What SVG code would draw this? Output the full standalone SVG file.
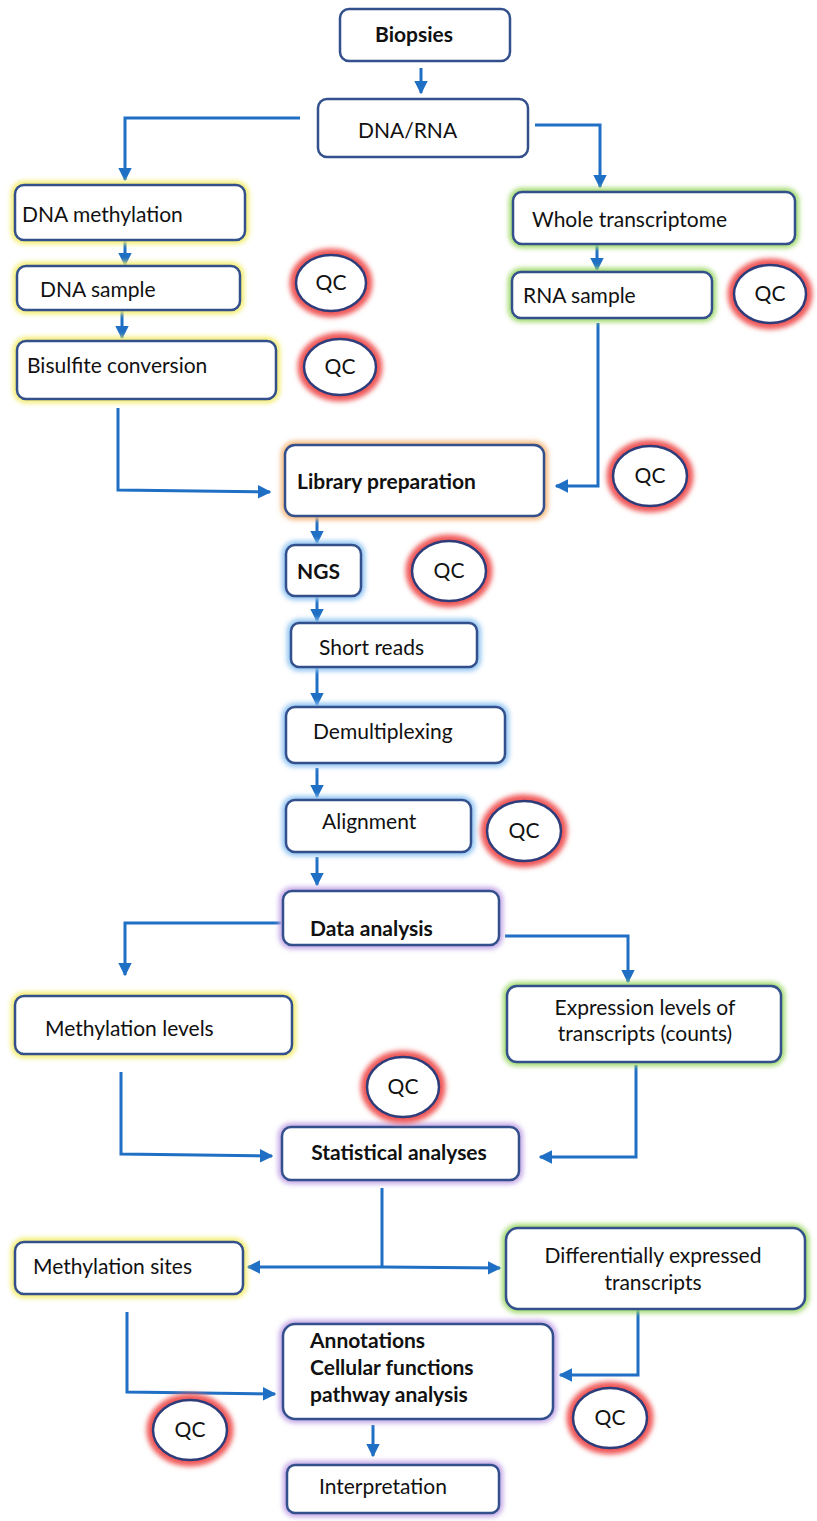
<svg xmlns="http://www.w3.org/2000/svg" width="817" height="1521" viewBox="0 0 817 1521">
<defs>
<filter id="blur" x="-20%" y="-20%" width="140%" height="140%"><feGaussianBlur stdDeviation="2.5"/></filter>
<marker id="ah" viewBox="0 0 10 10" refX="9" refY="5" markerWidth="4.5" markerHeight="4.5" orient="auto" markerUnits="strokeWidth"><path d="M0,0 L10,5 L0,10 z" fill="#1f6fc4"/></marker>
</defs>
<style>
.box{fill:#fff;stroke:#33508c;stroke-width:2.5}
.gy{fill:none;stroke:#f3ec6a;stroke-width:8;filter:url(#blur)}
.gg{fill:none;stroke:#9fd86a;stroke-width:8;filter:url(#blur)}
.go{fill:none;stroke:#f6b77a;stroke-width:8;filter:url(#blur)}
.gb{fill:none;stroke:#8ec3f2;stroke-width:8;filter:url(#blur)}
.gp{fill:none;stroke:#c3a6e6;stroke-width:8;filter:url(#blur)}
.qg{fill:none;stroke:#f05858;stroke-width:13;filter:url(#blur)}
.qc{fill:#fff;stroke:#2e3d7a;stroke-width:2.5}
.t{font-family:Lato,"Open Sans",sans-serif;font-size:21px;fill:#111}
.b{font-weight:bold}
.m{text-anchor:middle}
.c{fill:none;stroke:#1f6fc4;stroke-width:3}
.a{marker-end:url(#ah)}
</style>
<g id="connectors">
<path class="c a" d="M421,68 V93"/>
<path class="c a" d="M300,118 H125 V180"/>
<path class="c a" d="M535,125 H600 V187"/>
<path class="c a" d="M125,240 V265"/>
<path class="c a" d="M122,310 V338"/>
<path class="c a" d="M597,244 V270"/>
<path class="c a" d="M118,408 V490 L270,492"/>
<path class="c a" d="M598,323 V486 H556"/>
<path class="c a" d="M317,516 V543"/>
<path class="c a" d="M317,596 V621"/>
<path class="c a" d="M317,667 V705"/>
<path class="c a" d="M317,768 V797"/>
<path class="c a" d="M317,857 V885"/>
<path class="c a" d="M281,923 H125 V975"/>
<path class="c a" d="M505,936 H628 V982"/>
<path class="c a" d="M121,1072 V1154 L272,1156"/>
<path class="c a" d="M636,1065 V1157 H540"/>
<path class="c" d="M382,1188 V1267"/>
<path class="c a" d="M382,1267 H248"/>
<path class="c a" d="M382,1267 L500,1268"/>
<path class="c a" d="M127,1312 V1392 L275,1394"/>
<path class="c a" d="M638,1309 V1375 H560"/>
<path class="c a" d="M373,1425 V1456"/>
</g>
<g id="biopsies"><rect class="box" x="340" y="9" width="170" height="52" rx="9"/><text class="t b" x="375" y="42">Biopsies</text></g>
<g id="dnarna"><rect class="box" x="318" y="99" width="210" height="58" rx="9"/><text class="t" x="358" y="138">DNA/RNA</text></g>
<g id="dnameth"><rect class="gy" x="15" y="185" width="230" height="55" rx="9"/><rect class="box" x="15" y="185" width="230" height="55" rx="9"/><text class="t" x="22" y="222">DNA methylation</text></g>
<g id="dnasample"><rect class="gy" x="17" y="266" width="223" height="44" rx="9"/><rect class="box" x="17" y="266" width="223" height="44" rx="9"/><text class="t" x="40" y="297">DNA sample</text></g>
<g id="bisulfite"><rect class="gy" x="17" y="341" width="259" height="58" rx="9"/><rect class="box" x="17" y="341" width="259" height="58" rx="9"/><text class="t" x="27" y="373">Bisulfite conversion</text></g>
<g id="wholetx"><rect class="gg" x="513" y="192" width="282" height="52" rx="9"/><rect class="box" x="513" y="192" width="282" height="52" rx="9"/><text class="t" x="532" y="227">Whole transcriptome</text></g>
<g id="rnasample"><rect class="gg" x="512" y="272" width="200" height="46" rx="9"/><rect class="box" x="512" y="272" width="200" height="46" rx="9"/><text class="t" x="523" y="303">RNA sample</text></g>
<g id="libprep"><rect class="go" x="285" y="445" width="259" height="71" rx="10"/><rect class="box" x="285" y="445" width="259" height="71" rx="10"/><text class="t b" x="297" y="489">Library preparation</text></g>
<g id="ngs"><rect class="gb" x="286" y="545" width="75" height="51" rx="9"/><rect class="box" x="286" y="545" width="75" height="51" rx="9"/><text class="t b" x="297" y="579">NGS</text></g>
<g id="shortreads"><rect class="gb" x="291" y="623" width="186" height="44" rx="8"/><rect class="box" x="291" y="623" width="186" height="44" rx="8"/><text class="t" x="319" y="655">Short reads</text></g>
<g id="demux"><rect class="gb" x="286" y="707" width="219" height="56" rx="9"/><rect class="box" x="286" y="707" width="219" height="56" rx="9"/><text class="t" x="313" y="739">Demultiplexing</text></g>
<g id="alignment"><rect class="gb" x="286" y="800" width="185" height="52" rx="9"/><rect class="box" x="286" y="800" width="185" height="52" rx="9"/><text class="t" x="322" y="829">Alignment</text></g>
<g id="dataanalysis"><rect class="gp" x="283" y="891" width="216" height="54" rx="9"/><rect class="box" x="283" y="891" width="216" height="54" rx="9"/><text class="t b" x="310" y="936">Data analysis</text></g>
<g id="methlevels"><rect class="gy" x="15" y="996" width="277" height="58" rx="9"/><rect class="box" x="15" y="996" width="277" height="58" rx="9"/><text class="t" x="45" y="1036">Methylation levels</text></g>
<g id="exprlevels"><rect class="gg" x="507" y="986" width="274" height="76" rx="10"/><rect class="box" x="507" y="986" width="274" height="76" rx="10"/><text class="t m" x="645" y="1015">Expression levels of</text><text class="t m" x="645" y="1041">transcripts (counts)</text></g>
<g id="stats"><rect class="gp" x="282" y="1127" width="237" height="53" rx="9"/><rect class="box" x="282" y="1127" width="237" height="53" rx="9"/><text class="t b m" x="399" y="1160">Statistical analyses</text></g>
<g id="methsites"><rect class="gy" x="15" y="1242" width="228" height="52" rx="9"/><rect class="box" x="15" y="1242" width="228" height="52" rx="9"/><text class="t" x="33" y="1274">Methylation sites</text></g>
<g id="difftx"><rect class="gg" x="506" y="1228" width="299" height="81" rx="12"/><rect class="box" x="506" y="1228" width="299" height="81" rx="12"/><text class="t m" x="653" y="1263">Differentially expressed</text><text class="t m" x="653" y="1290">transcripts</text></g>
<g id="annot"><rect class="gp" x="283" y="1324" width="270" height="95" rx="12"/><rect class="box" x="283" y="1324" width="270" height="95" rx="12"/><text class="t b" x="310" y="1348">Annotations</text><text class="t b" x="310" y="1375">Cellular functions</text><text class="t b" x="310" y="1402">pathway analysis</text></g>
<g id="interp"><rect class="gp" x="287" y="1465" width="212" height="48" rx="8"/><rect class="box" x="287" y="1465" width="212" height="48" rx="8"/><text class="t" x="319" y="1494">Interpretation</text></g>
<g id="qc1"><ellipse class="qg" cx="331" cy="283" rx="35" ry="28"/><ellipse class="qc" cx="331" cy="283" rx="35" ry="28"/><text class="t m" x="331" y="290">QC</text></g>
<g id="qc2"><ellipse class="qg" cx="340" cy="367" rx="36" ry="28"/><ellipse class="qc" cx="340" cy="367" rx="36" ry="28"/><text class="t m" x="340" y="374">QC</text></g>
<g id="qc3"><ellipse class="qg" cx="770" cy="294" rx="36" ry="29"/><ellipse class="qc" cx="770" cy="294" rx="36" ry="29"/><text class="t m" x="770" y="301">QC</text></g>
<g id="qc4"><ellipse class="qg" cx="650" cy="476" rx="37" ry="30"/><ellipse class="qc" cx="650" cy="476" rx="37" ry="30"/><text class="t m" x="650" y="483">QC</text></g>
<g id="qc5"><ellipse class="qg" cx="449" cy="571" rx="37" ry="30"/><ellipse class="qc" cx="449" cy="571" rx="37" ry="30"/><text class="t m" x="449" y="578">QC</text></g>
<g id="qc6"><ellipse class="qg" cx="524" cy="831" rx="37" ry="30"/><ellipse class="qc" cx="524" cy="831" rx="37" ry="30"/><text class="t m" x="524" y="838">QC</text></g>
<g id="qc7"><ellipse class="qg" cx="403" cy="1087" rx="36" ry="30"/><ellipse class="qc" cx="403" cy="1087" rx="36" ry="30"/><text class="t m" x="403" y="1094">QC</text></g>
<g id="qc8"><ellipse class="qg" cx="190" cy="1430" rx="37" ry="30"/><ellipse class="qc" cx="190" cy="1430" rx="37" ry="30"/><text class="t m" x="190" y="1437">QC</text></g>
<g id="qc9"><ellipse class="qg" cx="610" cy="1418" rx="37" ry="30"/><ellipse class="qc" cx="610" cy="1418" rx="37" ry="30"/><text class="t m" x="610" y="1425">QC</text></g>
</svg>
